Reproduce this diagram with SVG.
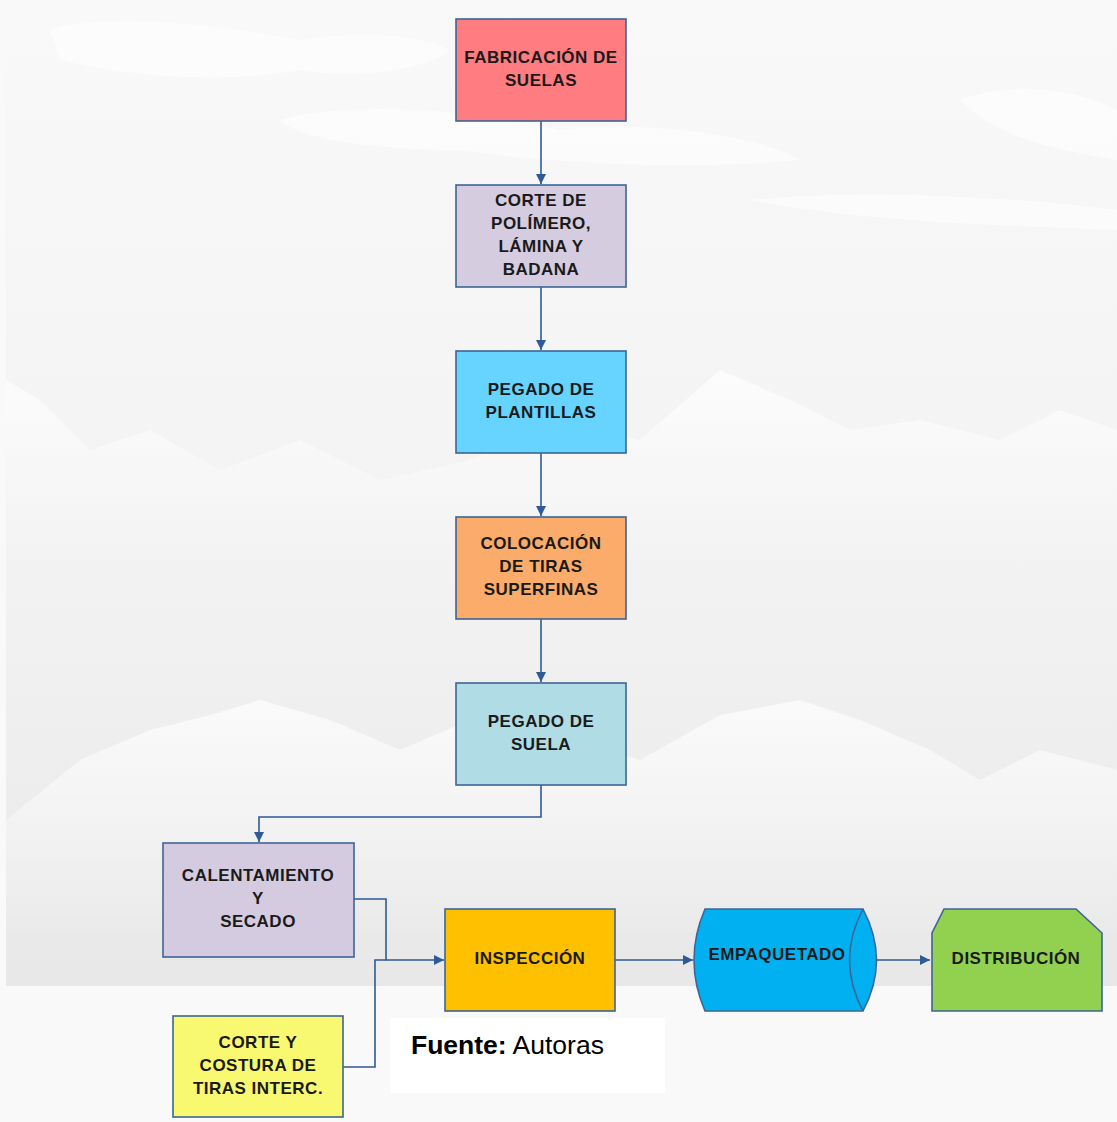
<svg xmlns="http://www.w3.org/2000/svg" width="1117" height="1122" viewBox="0 0 1117 1122">
<defs>
<linearGradient id="bg" x1="0" y1="0" x2="0" y2="1">
<stop offset="0" stop-color="#f9f9f9"/>
<stop offset="0.6" stop-color="#f2f2f2"/>
<stop offset="1" stop-color="#e8e8e8"/>
</linearGradient>
<linearGradient id="fade" x1="0" y1="0" x2="0" y2="1">
<stop offset="0" stop-color="#ffffff" stop-opacity="0.7"/>
<stop offset="1" stop-color="#ffffff" stop-opacity="0"/>
</linearGradient>
<marker id="ah" viewBox="0 0 10 10" refX="10" refY="5" markerWidth="10" markerHeight="10" markerUnits="userSpaceOnUse" orient="auto">
<path d="M0,0 L10,5 L0,10 z" fill="#2e5a95"/>
</marker>
<style>
.box{stroke:#3d6596;stroke-width:1.6}
.t{font-family:"Liberation Sans",Arial,sans-serif;font-weight:bold;font-size:17px;letter-spacing:0.5px;fill:#1a1a1a;text-anchor:middle}
.c{fill:none;stroke:#2e5a95;stroke-width:1.6}
.cloud{fill:#ffffff;opacity:0.55}
.mt{fill:url(#fade)}
</style>
</defs>
<rect x="0" y="0" width="1117" height="1122" fill="#f9f9f9"/>
<rect x="6" y="0" width="1111" height="986" fill="url(#bg)"/>
<g id="background-texture">
<path class="cloud" d="M50,30 C90,15 200,20 300,40 C360,30 420,35 450,50 C430,70 350,80 300,70 C220,85 120,75 60,60 Z"/>
<path class="cloud" d="M280,120 C350,100 480,110 560,130 C640,120 760,135 800,160 C700,170 560,165 460,150 C380,150 300,140 280,120 Z"/>
<path class="cloud" d="M960,100 C1010,80 1080,90 1117,110 L1117,160 C1060,150 1000,140 960,100 Z"/>
<path class="cloud" d="M750,200 C850,190 1000,195 1117,210 L1117,230 C980,225 850,220 750,200 Z"/>
<path class="mt" d="M6,380 L40,400 L90,450 L150,430 L220,470 L300,440 L380,480 L470,460 L560,420 L640,440 L720,370 L790,400 L850,430 L920,420 L1000,440 L1060,410 L1117,430 L1117,560 L6,560 Z"/>
<path class="mt" d="M6,820 L80,760 L150,730 L210,715 L260,700 L330,720 L400,750 L470,720 L560,735 L640,760 L720,715 L800,700 L860,720 L930,750 L980,780 L1040,750 L1117,770 L1117,940 L6,940 Z"/>
</g>
<rect x="390" y="1018" width="275" height="75" fill="#ffffff"/>
<g id="connectors">
<path class="c" d="M541,121 V184" marker-end="url(#ah)"/>
<path class="c" d="M541,287 V350" marker-end="url(#ah)"/>
<path class="c" d="M541,453 V516" marker-end="url(#ah)"/>
<path class="c" d="M541,619 V682" marker-end="url(#ah)"/>
<path class="c" d="M541,785 V817 H259 V842" marker-end="url(#ah)"/>
<path class="c" d="M354,899 H386 V960 H444" marker-end="url(#ah)"/>
<path class="c" d="M343,1067 H375 V960 H386"/>
<path class="c" d="M615,960 H693" marker-end="url(#ah)"/>
<path class="c" d="M876,960 H930" marker-end="url(#ah)"/>
</g>
<g id="n1">
<rect class="box" x="456" y="19" width="170" height="102" fill="#ff7c80"/>
<text class="t" x="541" y="63">FABRICACIÓN DE</text>
<text class="t" x="541" y="86">SUELAS</text>
</g>
<g id="n2">
<rect class="box" x="456" y="185" width="170" height="102" fill="#d5cce0"/>
<text class="t" x="541" y="206">CORTE DE</text>
<text class="t" x="541" y="229">POLÍMERO,</text>
<text class="t" x="541" y="252">LÁMINA Y</text>
<text class="t" x="541" y="275">BADANA</text>
</g>
<g id="n3">
<rect class="box" x="456" y="351" width="170" height="102" fill="#66d4ff"/>
<text class="t" x="541" y="395">PEGADO DE</text>
<text class="t" x="541" y="418">PLANTILLAS</text>
</g>
<g id="n4">
<rect class="box" x="456" y="517" width="170" height="102" fill="#fbab6a"/>
<text class="t" x="541" y="549">COLOCACIÓN</text>
<text class="t" x="541" y="572">DE TIRAS</text>
<text class="t" x="541" y="595">SUPERFINAS</text>
</g>
<g id="n5">
<rect class="box" x="456" y="683" width="170" height="102" fill="#b0dce6"/>
<text class="t" x="541" y="727">PEGADO DE</text>
<text class="t" x="541" y="750">SUELA</text>
</g>
<g id="n6">
<rect class="box" x="163" y="843" width="191" height="114" fill="#d4cbe0"/>
<text class="t" x="258" y="881">CALENTAMIENTO</text>
<text class="t" x="258" y="904">Y</text>
<text class="t" x="258" y="927">SECADO</text>
</g>
<g id="n7">
<rect class="box" x="445" y="909" width="170" height="102" fill="#ffc000"/>
<text class="t" x="530" y="964">INSPECCIÓN</text>
</g>
<g id="n8">
<path class="box" d="M705,909 H863 Q890,960 863,1011 H705 Q683,960 705,909 Z" fill="#00b0f0"/>
<path class="box" d="M863,909 Q836,960 863,1011" fill="none"/>
<text class="t" x="777" y="960">EMPAQUETADO</text>
</g>
<g id="n9">
<path class="box" d="M944,909 H1076 L1102,933 V1011 H932 V933 Z" fill="#92d050"/>
<text class="t" x="1016" y="964">DISTRIBUCIÓN</text>
</g>
<g id="n10">
<rect class="box" x="173" y="1016" width="170" height="101" fill="#f9f871"/>
<text class="t" x="258" y="1048">CORTE Y</text>
<text class="t" x="258" y="1071">COSTURA DE</text>
<text class="t" x="258" y="1094">TIRAS INTERC.</text>
</g>
<text x="411" y="1054" font-family="Liberation Sans, Arial, sans-serif" font-size="26.5" fill="#000"><tspan font-weight="bold">Fuente:</tspan> Autoras</text>
</svg>
